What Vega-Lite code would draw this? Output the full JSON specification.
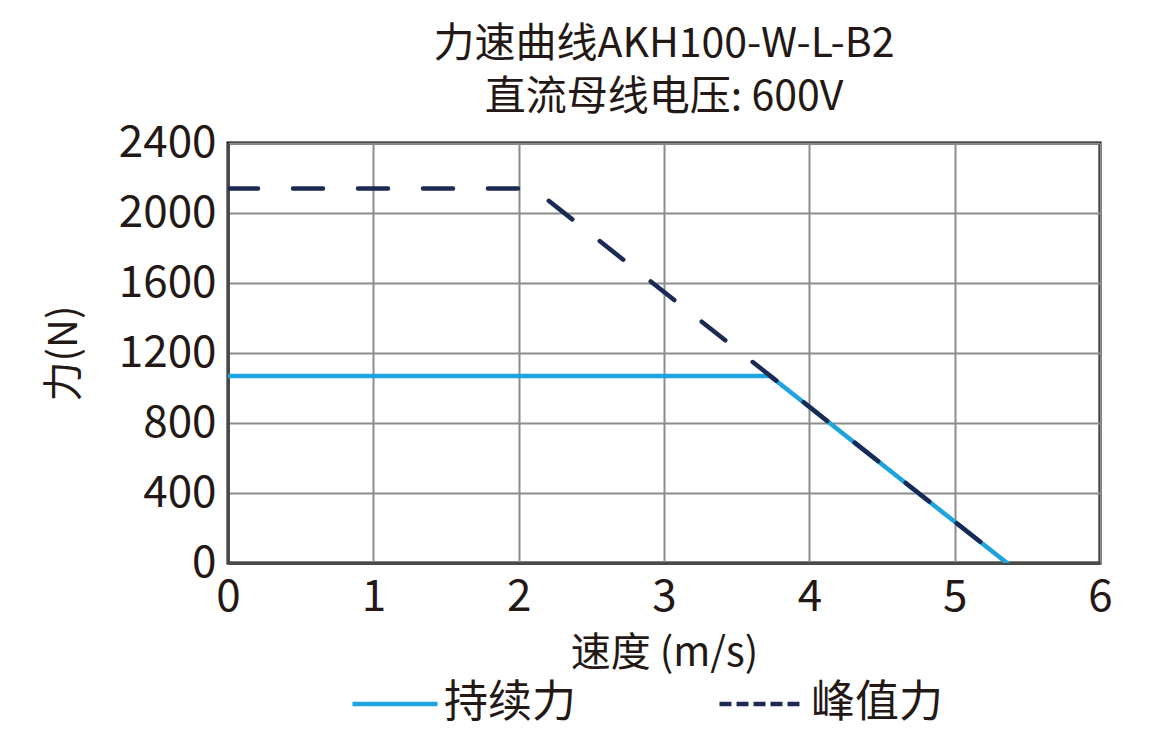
{
  "$schema": "https://vega.github.io/schema/vega-lite/v6.json",
  "description": "Force-speed curve AKH100-W-L-B2",
  "autosize": {"type": "none"},
  "width": 872,
  "height": 420,
  "padding": {"left": 228, "top": 143, "right": 62, "bottom": 184},
  "background": "white",
  "title": {
    "text": ["力速曲线AKH100-W-L-B2", "直流母线电压: 600V"],
    "font": "Noto Sans CJK SC",
    "fontSize": 41,
    "fontWeight": "normal",
    "lineHeight": 53,
    "color": "#231815",
    "offset": 2
  },
  "config": {
    "font": "Noto Sans CJK SC",
    "view": {"stroke": "#000000", "strokeWidth": 3},
    "axis": {
      "labelFont": "Noto Sans CJK SC",
      "labelFontSize": 44,
      "labelColor": "#231815",
      "titleFont": "Noto Sans CJK SC",
      "titleFontSize": 40,
      "titleFontWeight": "normal",
      "titleColor": "#231815",
      "gridColor": "#8c8c8c",
      "gridWidth": 2,
      "ticks": false,
      "domainColor": "#4a4a4a",
      "domainWidth": 3
    }
  },
  "data": {
    "values": [
      {"speed": 0, "force": 1068, "series": "持续力"},
      {"speed": 3.73, "force": 1068, "series": "持续力"},
      {"speed": 5.36, "force": 0, "series": "持续力"},
      {"speed": 0, "force": 2140, "series": "峰值力"},
      {"speed": 2.1, "force": 2140, "series": "峰值力"},
      {"speed": 5.36, "force": 0, "series": "峰值力"}
    ]
  },
  "encoding": {
    "x": {
      "field": "speed",
      "type": "quantitative",
      "title": "速度 (m/s)",
      "scale": {"domain": [0, 6], "nice": false},
      "axis": {"values": [0, 1, 2, 3, 4, 5, 6], "labelPadding": 12, "titlePadding": 14, "labelFlush": false}
    },
    "y": {
      "field": "force",
      "type": "quantitative",
      "title": "力(N)",
      "scale": {"domain": [0, 2400], "nice": false},
      "axis": {"values": [0, 400, 800, 1200, 1600, 2000, 2400], "format": "d", "labelPadding": 12, "titlePadding": 34, "labelFlush": false}
    },
    "color": {
      "field": "series",
      "type": "nominal",
      "scale": {"domain": ["持续力", "峰值力"], "range": ["#1fa3dd", "#1a2a52"]},
      "legend": {
        "title": null,
        "orient": "none",
        "direction": "horizontal",
        "legendX": 122,
        "legendY": 516,
        "symbolType": "stroke",
        "symbolSize": 7225,
        "symbolStrokeWidth": 4.5,
        "labelFont": "Noto Sans CJK SC",
        "labelFontSize": 44,
        "labelColor": "#231815",
        "labelOffset": 4,
        "columnPadding": 134,
        "encode": {
          "symbols": {
            "update": {
              "strokeDash": {"signal": "datum.value === '峰值力' ? [12, 5] : [1, 0]"}
            }
          }
        }
      }
    }
  },
  "layer": [
    {
      "transform": [{"filter": "datum.series === '持续力'"}],
      "mark": {"type": "line", "strokeWidth": 4.5, "strokeCap": "round", "clip": true}
    },
    {
      "transform": [{"filter": "datum.series === '峰值力'"}],
      "mark": {"type": "line", "strokeWidth": 4.5, "strokeCap": "round", "strokeDash": [30, 35], "clip": true}
    }
  ]
}
